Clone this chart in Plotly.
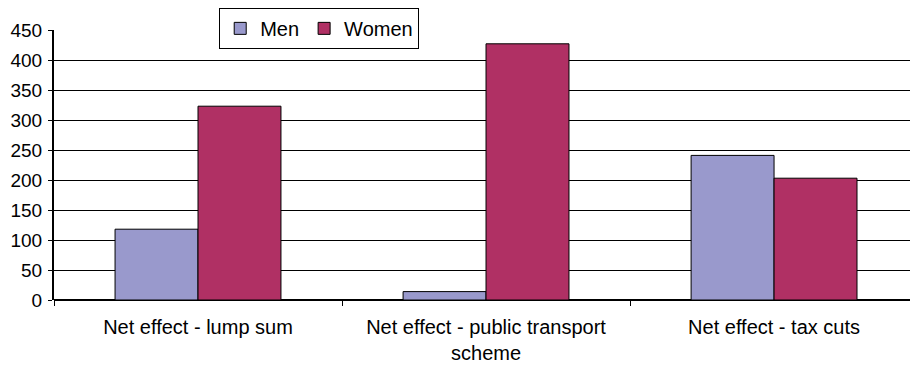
import plotly.graph_objects as go

# Net effect of each policy, by sex
categories = [
    "Net effect - lump sum",
    "Net effect - public transport<br>scheme",
    "Net effect - tax cuts",
]
men = [118, 14, 241]
women = [323, 427, 203]
y_ticks = [0, 50, 100, 150, 200, 250, 300, 350, 400, 450]

FONT = "Arial, 'Liberation Sans', Helvetica, sans-serif"

fig = go.Figure()
fig.add_trace(go.Bar(
    name="Men", x=categories, y=men,
    marker=dict(color="#9999CC", line=dict(color="#000000", width=1)),
))
fig.add_trace(go.Bar(
    name="Women", x=categories, y=women,
    marker=dict(color="#B03064", line=dict(color="#000000", width=1)),
))

fig.update_layout(
    width=910, height=366,
    margin=dict(l=54, r=0, t=30, b=66),
    paper_bgcolor="white", plot_bgcolor="white",
    barmode="group", bargap=0.424, bargroupgap=0,
    font=dict(family=FONT, color="#000000"),
    legend=dict(
        orientation="h",
        x=0.193, y=1.082, xanchor="left", yanchor="top",
        bgcolor="white", bordercolor="#000000", borderwidth=1,
        font=dict(size=20),
        itemclick=False,
    ),
    xaxis=dict(
        type="category",
        range=[-0.5, 2.472],
        showgrid=False,
        showline=False,
        ticks="outside", tickson="boundaries", ticklen=5, tickwidth=1,
        tickcolor="#000000",
        tickfont=dict(size=20),
        ticklabelstandoff=13,
    ),
    yaxis=dict(
        range=[0, 450],
        tickvals=y_ticks,
        showgrid=True, gridcolor="#000000", gridwidth=1,
        showline=True, linecolor="#000000", linewidth=2,
        zeroline=True, zerolinecolor="#000000", zerolinewidth=2,
        ticks="outside", ticklen=4, tickwidth=1, tickcolor="#000000",
        tickfont=dict(size=19),
        ticklabelstandoff=2,
    ),
)

fig.write_html("out.html")
